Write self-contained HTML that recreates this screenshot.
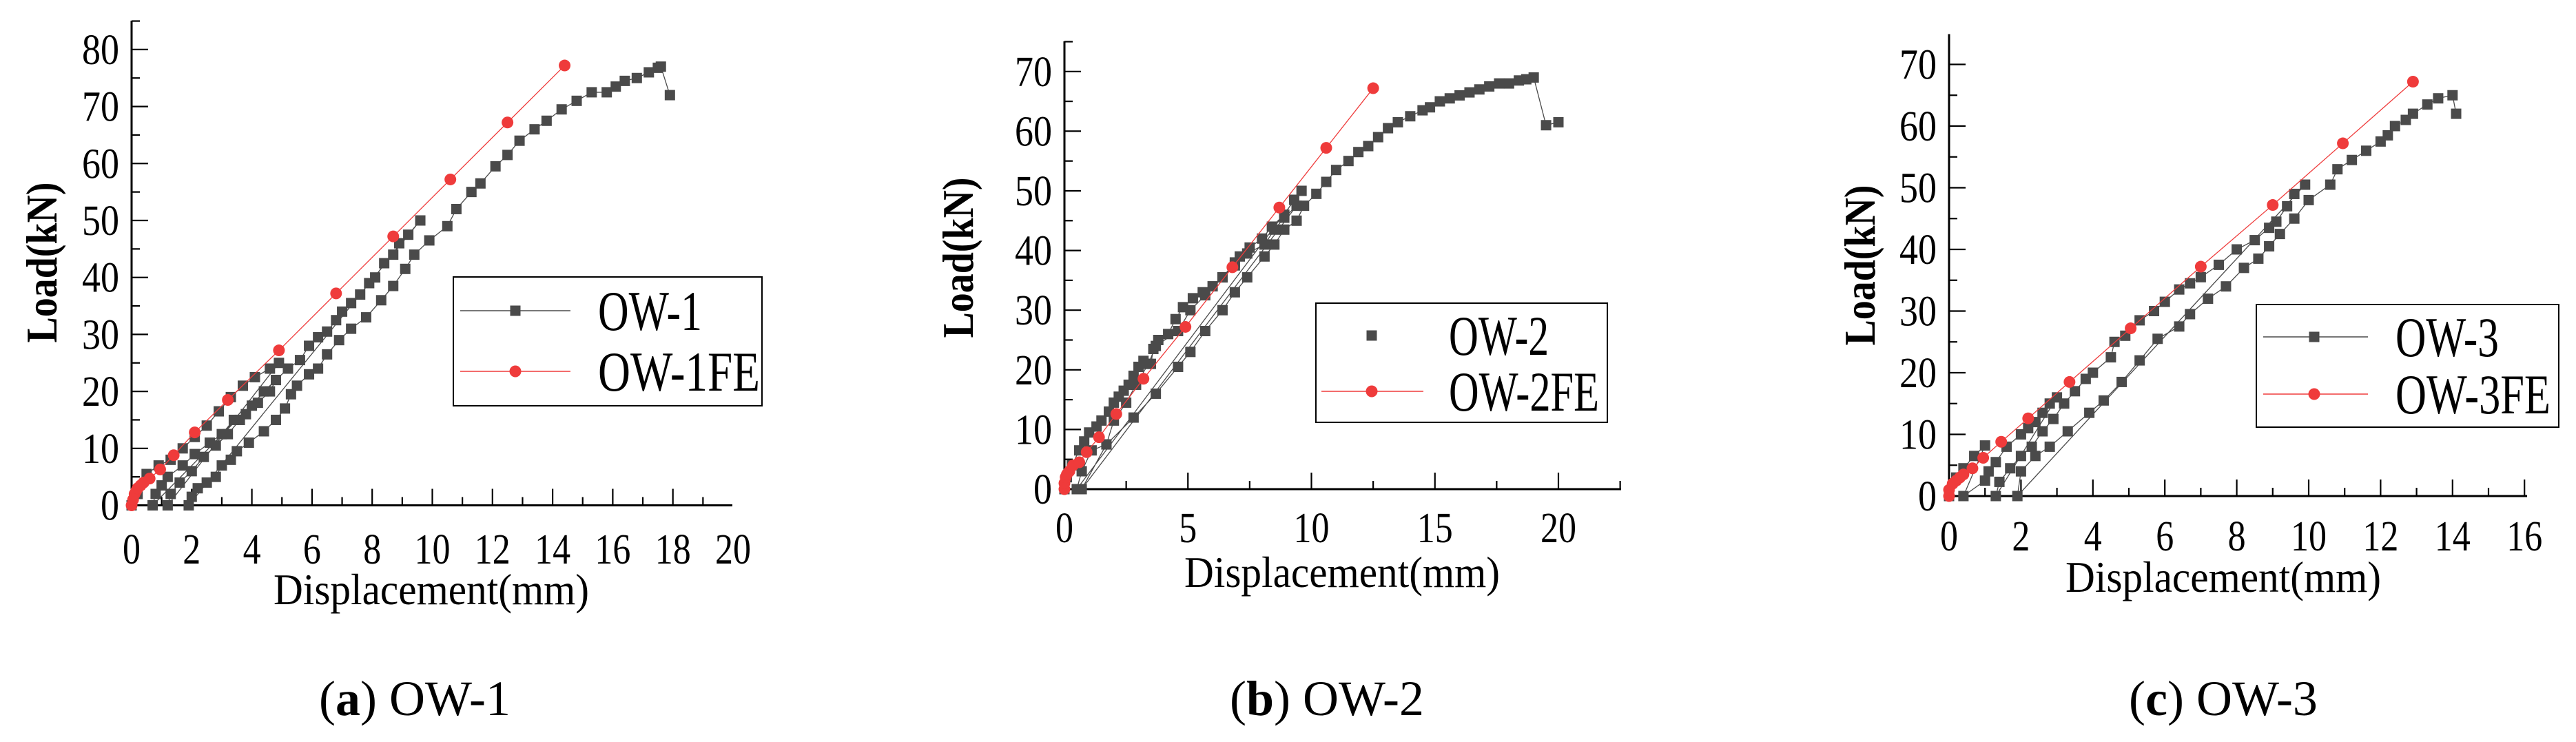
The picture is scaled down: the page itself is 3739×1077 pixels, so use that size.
<!DOCTYPE html>
<html><head><meta charset="utf-8"><style>
html,body{margin:0;padding:0;background:#fff;}
svg{display:block;}
</style></head><body>
<svg id="fig" width="3739" height="1077" viewBox="0 0 3739 1077" xmlns="http://www.w3.org/2000/svg" font-family="'Liberation Serif', serif"></svg>
<script>
// ---- Data (displacement mm, load kN) ----
const ow1ExpX = [0,0.2,0.5,0.9,1.3,1.7,2.1,2.5,2.9,3.3,3.7,4.1,4.6,4.9,1.2,1.3,1.6,2.0,2.4,2.8,3.2,3.6,4.0,4.4,4.8,0.7,0.8,1.0,1.2,1.7,2.1,2.6,3.0,3.4,3.8,4.2,4.6,4.8,5.2,5.6,5.9,6.2,6.5,6.8,7.0,7.3,7.6,7.9,8.1,8.4,8.7,8.9,9.2,9.6,1.9,2.0,2.2,2.5,2.8,3.0,3.3,3.5,3.9,4.4,4.8,5.1,5.3,5.5,5.9,6.2,6.5,6.9,7.3,7.8,8.3,8.7,9.1,9.4,9.9,10.5,10.8,11.3,11.6,12.1,12.5,12.9,13.4,13.8,14.3,14.8,15.3,15.8,16.1,16.4,16.8,17.2,17.5,17.6,17.9];
const ow1ExpY = [0,2,5.5,7,8,10,12,14,16.5,19,21,22.5,24,25,0,2,4,6,8.5,10.5,12.5,15,17.5,20,22,0,2,3.5,5,7,9,11,12.5,15,16,18,20,22,24,25.5,28,29.5,30.5,32.5,34,35.5,37,39,40,42.5,44,46,47.5,50,0,1.5,3,4,5,7,8,9.5,11,13,15,17,19.5,21,23,24,26.5,29,31,33,36,38.5,41.5,44,46.5,49,52,55,56.5,59.5,61.5,64,66,67.5,69.5,71,72.5,72.5,73.5,74.5,75,76,76.8,77,72];
const ow1FeX = [0,0.05,0.1,0.15,0.2,0.3,0.4,0.6,0.95,1.4,2.1,3.2,4.9,6.8,8.7,10.6,12.5,14.4];
const ow1FeY = [0,1,2,2.5,3,3.5,4,4.7,6.3,8.8,12.8,18.5,27.2,37.2,47.2,57.2,67.2,77.2];

const ow2ExpX = [0,0.1,0.3,0.6,0.8,1.0,1.3,1.5,1.8,2.0,2.2,2.4,2.6,2.8,3.0,3.2,3.5,3.6,3.8,4.2,4.5,4.8,5.2,5.6,6.0,6.4,6.9,7.1,7.5,8.0,8.4,8.9,9.3,9.6,0.5,0.7,1.1,1.7,2.0,2.5,2.9,3.4,3.7,4.6,5.1,5.7,6.4,6.9,7.4,8.1,8.5,8.9,9.4,0.7,1.7,2.8,3.7,4.6,5.1,5.7,6.4,6.9,7.4,8.1,8.5,8.9,9.4,9.7,10.2,10.6,11.0,11.5,11.9,12.3,12.7,13.1,13.5,14.0,14.5,14.8,15.2,15.6,16.0,16.4,16.8,17.2,17.6,18.0,18.4,18.7,19.0,19.5,20.0];
const ow2ExpY = [0,2,4,6.5,8,9.5,10.5,11.5,13,14.5,15.5,16.5,17.5,19,20.5,21.5,21,23.5,25,26,28.5,30.5,32,33,34,35.5,37.5,39,40.5,42,44,46,48.5,50,0,3,6.5,7.5,11.5,14.5,17.5,21,24,26.5,30,32.5,35.5,38,39.5,41,43.5,45.5,47.5,0,7.5,12,16,20.5,23,26.5,30,33,35.5,39,41,43.5,45,47.5,49.5,51.5,53.5,55,56.5,57.5,59,60.5,61.5,62.5,63.5,64,65,65.5,66,66.5,67,67.5,68,68,68.5,68.7,69,61,61.5];
const ow2FeX = [0,0,0.05,0.1,0.2,0.35,0.6,0.9,1.4,2.1,3.2,4.9,6.8,8.7,10.6,12.5];
const ow2FeY = [0,1,2,2.5,3,4,4.5,6.2,8.7,12.6,18.5,27.2,37.2,47.2,57.2,67.2];

const ow3ExpX = [0,0.2,0.4,0.7,1.0,0.4,1.0,1.1,1.3,1.6,2.0,2.2,2.4,2.6,2.8,3.0,1.3,1.4,1.7,2.0,2.3,2.6,2.9,3.2,3.5,3.8,4.0,4.5,4.6,4.9,5.3,5.7,6.0,6.4,6.7,7.0,7.5,8.0,8.5,8.9,9.1,9.4,9.6,9.9,1.9,2.0,2.4,2.8,3.3,3.9,4.3,4.8,5.3,5.8,6.4,6.7,7.2,7.7,8.2,8.6,8.9,9.2,9.6,10.0,10.6,10.8,11.2,11.6,12.0,12.2,12.4,12.7,12.9,13.3,13.6,14.0,14.1];
const ow3ExpY = [0,3,4.5,6.5,8.2,0,2.5,4,5.5,8,10,11,12,13.5,15,16,0,2.3,4.5,6.5,8,10.5,12.5,15,17,19,20,22.5,25,26,28.5,30,31.5,33.5,34.5,35.5,37.5,40,41.5,43.5,44.5,47,49,50.5,0,4,6.5,8,10.5,13.5,15.5,18.5,22,25.5,27.5,29.5,32,34,37,38.5,40.5,42.5,45,48,50.5,53,54.5,56,57.5,58.5,60,61,62,63.5,64.5,65,62];
const ow3FeX = [0,0,0.1,0.2,0.3,0.4,0.65,0.95,1.45,2.2,3.35,5.05,7.0,9.0,10.95,12.9];
const ow3FeY = [0,1,2,2.5,3,3.5,4.5,6.2,8.8,12.6,18.5,27.2,37.2,47.2,57.2,67.2];

const xTicks1 = [0,2,4,6,8,10,12,14,16,18,20];
const xTicks2 = [0,5,10,15,20];
const xTicks3 = [0,2,4,6,8,10,12,14,16];
const yTicks1 = [0,10,20,30,40,50,60,70,80];
const yTicks23 = [0,10,20,30,40,50,60,70];

// ---- Layout config ----
const panels = [
 {id:'a', x0:191, y0:733.5, xpx:43.65, ypx:8.27, xEnd:1063, yTop:30, xTicks:xTicks1, xMinor:1, yTicks:yTicks1,
  ex:ow1ExpX, ey:ow1ExpY, fx:ow1FeX, fy:ow1FeY, tickY:797, titleX:626, titleY:855, loadX:60, loadY:381,
  cap:['a',' OW-1'], capX:602, leg:{x:658,y:402,w:448,h:187,r1:451,r2:539,l1:668,l2:828,m:748,t:868,w1:151,w2:235,line1:true},
  names:['OW-1','OW-1FE']},
 {id:'b', x0:1545, y0:710, xpx:35.85, ypx:8.66, xEnd:2353, yTop:60, xTicks:xTicks2, xMinor:2.5, yTicks:yTicks23,
  ex:ow2ExpX, ey:ow2ExpY, fx:ow2FeX, fy:ow2FeY, tickY:766, titleX:1948, titleY:830, loadX:1390, loadY:374,
  cap:['b',' OW-2'], capX:1926, leg:{x:1910,y:440,w:423,h:173,r1:487,r2:568,l1:1918,l2:2066,m:1991,t:2103,w1:145,w2:218,line1:false},
  names:['OW-2','OW-2FE']},
 {id:'c', x0:2829, y0:720, xpx:52.2, ypx:8.95, xEnd:3668, yTop:49.5, xTicks:xTicks3, xMinor:1, yTicks:yTicks23,
  ex:ow3ExpX, ey:ow3ExpY, fx:ow3FeX, fy:ow3FeY, tickY:778, titleX:3227, titleY:837, loadX:2699, loadY:385,
  cap:['c',' OW-3'], capX:3227, leg:{x:3275,y:442,w:439,h:178,r1:489,r2:572,l1:3285,l2:3437,m:3359,t:3477,w1:150,w2:225,line1:true},
  names:['OW-3','OW-3FE']}
];

const NS='http://www.w3.org/2000/svg';
const svg=document.getElementById('fig');
const FF="'Liberation Serif', serif";
function mk(tag,attrs,parent){const e=document.createElementNS(NS,tag);for(const k in attrs)e.setAttribute(k,attrs[k]);if(tag==='text')e.setAttribute('font-family',FF);(parent||svg).appendChild(e);return e;}
const GRAY='#4a4a4a', RED='#ef3b3b';

panels.forEach(p=>{
  const g=mk('g',{});
  
  
  const sx=v=>p.x0+v*p.xpx, sy=v=>p.y0-v*p.ypx;
  const ax=mk('line',{x1:p.x0,y1:p.y0,x2:p.xEnd,y2:p.y0,stroke:'#000','stroke-width':3},g);
  
  
  const ay=mk('line',{x1:p.x0,y1:p.y0+1.5,x2:p.x0,y2:p.yTop,stroke:'#000','stroke-width':3},g);
  
  
  const xmax=(p.xEnd-p.x0)/p.xpx;
  for(let v=p.xMinor;v<=xmax+0.01;v+=p.xMinor){
    const major=Math.abs(v/(p.xMinor*2)-Math.round(v/(p.xMinor*2)))<0.01;
    mk('line',{x1:sx(v),y1:p.y0,x2:sx(v),y2:p.y0-(major?24:12),stroke:'#000','stroke-width':2.2},g);
  }
  p.xTicks.forEach(v=>{
    const s=String(v);
    const t=mk('text',{x:sx(v),y:p.tickY+21,'font-size':62,'text-anchor':'middle',textLength:s.length*26,lengthAdjust:'spacingAndGlyphs'},g);
    
    
    t.textContent=s;
  });
  const ymax=(p.y0-p.yTop)/p.ypx;
  for(let v=5;v<=ymax;v+=5){
    const major=v%10===0;
    mk('line',{x1:p.x0,y1:sy(v),x2:p.x0+(major?24:12),y2:sy(v),stroke:'#000','stroke-width':2.2},g);
  }
  p.yTicks.forEach(v=>{
    const s=String(v);
    const t=mk('text',{x:p.x0-18,y:sy(v)+21,'font-size':62,'text-anchor':'end',textLength:s.length*27,lengthAdjust:'spacingAndGlyphs'},g);
    
    
    t.textContent=s;
  });
  const xt=mk('text',{x:p.titleX,y:p.titleY+22,'font-size':64,'text-anchor':'middle',textLength:458,lengthAdjust:'spacingAndGlyphs'},g);
  
  
  xt.textContent='Displacement(mm)';
  const yt=mk('text',{x:0,y:0,'font-size':64,'font-weight':'bold','text-anchor':'middle',textLength:233,lengthAdjust:'spacingAndGlyphs',transform:`translate(${p.loadX+22},${p.loadY}) rotate(-90)`},g);
  
  
  yt.textContent='Load(kN)';
  const pe=p.ex.map((v,i)=>sx(v)+','+sy(p.ey[i])).join(' ');
  const le=mk('polyline',{points:pe,fill:'none',stroke:GRAY,'stroke-width':1.3},g);
  
  
  p.ex.forEach((v,i)=>{
    const r=mk('rect',{x:sx(v)-7.5,y:sy(p.ey[i])-7.5,width:15,height:15,fill:GRAY},g);
    
    
  });
  const pf=p.fx.map((v,i)=>sx(v)+','+sy(p.fy[i])).join(' ');
  const lf=mk('polyline',{points:pf,fill:'none',stroke:RED,'stroke-width':1.3},g);
  
  
  p.fx.forEach((v,i)=>{
    const c=mk('circle',{cx:sx(v),cy:sy(p.fy[i]),r:8.5,fill:RED},g);
    
    
  });
  const L=p.leg;
  const lg=mk('g',{},g);
  
  
  mk('rect',{x:L.x,y:L.y,width:L.w,height:L.h,fill:'#fff',stroke:'#000','stroke-width':2},lg);
  if(L.line1) mk('line',{x1:L.l1,y1:L.r1,x2:L.l2,y2:L.r1,stroke:GRAY,'stroke-width':1.5},lg);
  mk('rect',{x:L.m-7.5,y:L.r1-7.5,width:15,height:15,fill:GRAY},lg);
  mk('line',{x1:L.l1,y1:L.r2,x2:L.l2,y2:L.r2,stroke:RED,'stroke-width':1.5},lg);
  mk('circle',{cx:L.m,cy:L.r2,r:8.5,fill:RED},lg);
  const t1=mk('text',{x:L.t,y:L.r1+28,'font-size':82,textLength:L.w1,lengthAdjust:'spacingAndGlyphs'},lg);
  
  
  t1.textContent=p.names[0];
  const t2=mk('text',{x:L.t,y:L.r2+28,'font-size':82,textLength:L.w2,lengthAdjust:'spacingAndGlyphs'},lg);
  
  
  t2.textContent=p.names[1];
  const cp=mk('text',{x:p.capX,y:1013+25,'font-size':72,'text-anchor':'middle'},g);
  
  
  const s1=mk('tspan',{},cp); s1.textContent='(';
  const s2=mk('tspan',{'font-weight':'bold'},cp); s2.textContent=p.cap[0];
  const s3=mk('tspan',{},cp); s3.textContent=')'+p.cap[1];
});
</script>
</body></html>
